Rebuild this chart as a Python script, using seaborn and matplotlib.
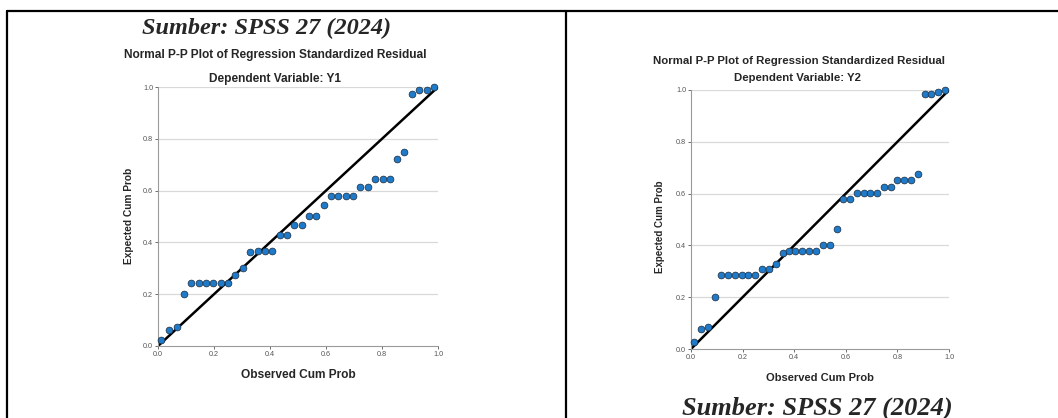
import matplotlib
matplotlib.use("Agg")
import matplotlib.pyplot as plt
import seaborn as sns
import pandas as pd
from matplotlib.lines import Line2D

# observed / expected cumulative probabilities
obs_y1 = [0.012, 0.040, 0.068, 0.094, 0.119, 0.146, 0.172, 0.198, 0.224, 0.250,
          0.276, 0.303, 0.329, 0.356, 0.382, 0.408, 0.434, 0.461, 0.487, 0.513,
          0.539, 0.566, 0.592, 0.618, 0.644, 0.671, 0.697, 0.723, 0.749, 0.776,
          0.802, 0.828, 0.853, 0.879, 0.906, 0.932, 0.959, 0.986]
exp_y1 = [0.022, 0.063, 0.073, 0.200, 0.245, 0.245, 0.245, 0.245, 0.245, 0.245,
          0.274, 0.302, 0.364, 0.367, 0.367, 0.367, 0.429, 0.429, 0.467, 0.467,
          0.502, 0.502, 0.543, 0.579, 0.579, 0.579, 0.579, 0.613, 0.613, 0.644,
          0.646, 0.646, 0.722, 0.750, 0.974, 0.987, 0.987, 0.999]

obs_y2 = [0.012, 0.039, 0.067, 0.093, 0.117, 0.144, 0.170, 0.196, 0.222, 0.249,
          0.276, 0.302, 0.328, 0.355, 0.379, 0.405, 0.432, 0.459, 0.485, 0.511,
          0.538, 0.565, 0.591, 0.616, 0.643, 0.669, 0.694, 0.721, 0.748, 0.774,
          0.800, 0.827, 0.854, 0.880, 0.906, 0.932, 0.959, 0.985]
exp_y2 = [0.027, 0.076, 0.085, 0.200, 0.284, 0.284, 0.284, 0.284, 0.284, 0.284,
          0.307, 0.307, 0.330, 0.371, 0.377, 0.377, 0.377, 0.377, 0.377, 0.401,
          0.401, 0.464, 0.578, 0.578, 0.603, 0.603, 0.603, 0.603, 0.627, 0.627,
          0.652, 0.652, 0.652, 0.675, 0.985, 0.985, 0.992, 0.999]

ticks = [0.0, 0.2, 0.4, 0.6, 0.8, 1.0]
tick_labels = ["0.0", "0.2", "0.4", "0.6", "0.8", "1.0"]

sns.set_style("white")
plt.rcParams['font.family'] = ['Liberation Sans', 'DejaVu Sans']

fig = plt.figure(figsize=(10.58, 4.18), dpi=100)
W, H = 1058, 418


def px_axes(x0, y0, x1, y1):
    # axes from pixel box (top-left origin)
    return fig.add_axes([x0 / W, 1 - y1 / H, (x1 - x0) / W, (y1 - y0) / H])


def pp_plot(ax, obs, exp):
    df = pd.DataFrame({"obs": obs, "exp": exp})
    for t in ticks[1:]:
        ax.axhline(t, color="#d9d9d9", lw=0.9, zorder=0)
    ax.plot([0, 1], [0, 1], color="black", lw=1.8, zorder=2)
    sns.scatterplot(data=df, x="obs", y="exp", ax=ax, s=24, color="#1f7bc9",
                    edgecolor="#1a2a3a", linewidth=0.5, zorder=3, clip_on=False)
    ax.set_xlim(0, 1)
    ax.set_ylim(0, 1)
    ax.set_xticks(ticks)
    ax.set_xticklabels(tick_labels)
    ax.set_yticks(ticks)
    ax.set_yticklabels(tick_labels)
    ax.tick_params(labelsize=5.2, colors="#555555", length=2, width=0.6, pad=1.5,
                   left=True, bottom=True)
    for side in ["top", "right"]:
        ax.spines[side].set_visible(False)
    for side in ["left", "bottom"]:
        ax.spines[side].set_color("#9a9a9a")
        ax.spines[side].set_linewidth(0.8)
    ax.set_xlabel("")
    ax.set_ylabel("")


ax1 = px_axes(158, 87, 438, 346)
pp_plot(ax1, obs_y1, exp_y1)
ax2 = px_axes(691, 90, 949, 349)
pp_plot(ax2, obs_y2, exp_y2)

bold = dict(ha="center", va="center", fontweight="bold")
title = "Normal P-P Plot of Regression Standardized Residual"

fig.text(275 / W, 1 - 55 / H, title, fontsize=8.6, **bold)
fig.text(275 / W, 1 - 79 / H, "Dependent Variable: Y1", fontsize=8.6, **bold)
fig.text(298 / W, 1 - 375 / H, "Observed Cum Prob", fontsize=8.6, **bold)
fig.text(129 / W, 1 - 216 / H, "Expected Cum Prob", fontsize=7.3, rotation=90, **bold)

fig.text(799 / W, 1 - 61 / H, title, fontsize=8.2, **bold)
fig.text(798 / W, 1 - 78 / H, "Dependent Variable: Y2", fontsize=8.2, **bold)
fig.text(820 / W, 1 - 378 / H, "Observed Cum Prob", fontsize=8.0, **bold)
fig.text(660 / W, 1 - 227 / H, "Expected Cum Prob", fontsize=7.0, rotation=90, **bold)

src_kw = dict(ha="center", va="center", fontweight="bold",
              fontstyle="italic", family="Liberation Serif")
fig.text(267 / W, 1 - 28 / H, "Sumber: SPSS 27 (2024)", fontsize=17.5, **src_kw)
fig.text(817 / W, 1 - 408 / H, "Sumber: SPSS 27 (2024)", fontsize=19, **src_kw)

# table borders
border = dict(color="black", lw=1.6, transform=fig.transFigure)
fig.add_artist(Line2D([7 / W, 1.0], [1 - 11 / H, 1 - 11 / H], **border))
fig.add_artist(Line2D([7 / W, 7 / W], [0, 1 - 11 / H], **border))
fig.add_artist(Line2D([566 / W, 566 / W], [0, 1 - 11 / H], **border))

fig.savefig("out.png", dpi=100)
